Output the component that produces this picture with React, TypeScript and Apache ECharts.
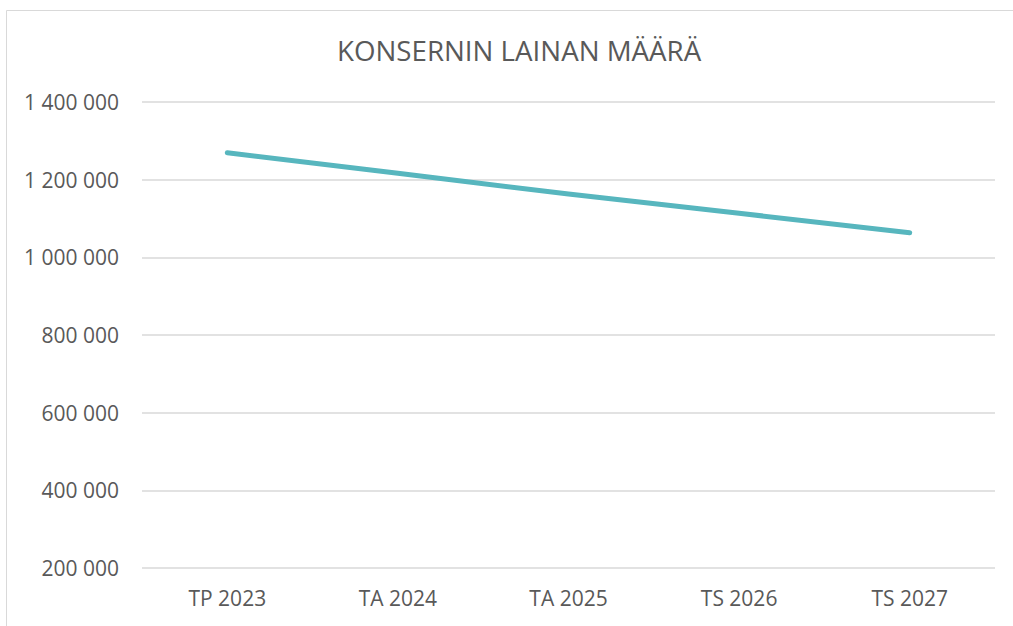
import React, { useEffect, useRef } from "react";
import * as echarts from "echarts";

const title = "KONSERNIN LAINAN MÄÄRÄ";
const categories = ["TP 2023", "TA 2024", "TA 2025", "TS 2026", "TS 2027"];
const loanValues = [1269500, 1216400, 1163100, 1113400, 1063500];
const yMin = 200000;
const yMax = 1400000;
const yStep = 200000;

const fmt = (v: number) =>
  String(Math.round(v)).replace(/\B(?=(\d{3})+(?!\d))/g, " ");

export default function App() {
  const ref = useRef<HTMLDivElement>(null);
  useEffect(() => {
    if (!ref.current) return;
    const chart = echarts.init(ref.current, undefined, { renderer: "svg" });
    const font = "'Open Sans', sans-serif";
    chart.setOption({
      animation: false,
      backgroundColor: "#ffffff",
      title: {
        text: title,
        left: 332,
        top: 31,
        textStyle: {
          fontFamily: font,
          fontSize: 27.7,
          fontWeight: "normal",
          color: "#595959",
        },
      },
      graphic: [
        {
          type: "rect",
          shape: { x: 6.5, y: 10.5, width: 1100, height: 700 },
          style: { fill: "none", stroke: "#d9d9d9", lineWidth: 1 },
          silent: true,
        },
      ],
      grid: { left: 142, right: 18, top: 102, bottom: 58 },
      xAxis: {
        type: "category",
        data: categories,
        boundaryGap: true,
        axisLine: { show: false },
        axisTick: { show: false },
        axisLabel: {
          fontFamily: font,
          fontSize: 21,
          color: "#595959",
          margin: 19,
        },
      },
      yAxis: {
        type: "value",
        min: yMin,
        max: yMax,
        interval: yStep,
        axisLine: { show: false },
        axisTick: { show: false },
        splitLine: { lineStyle: { color: "#d9d9d9", width: 1.5 } },
        axisLabel: {
          fontFamily: font,
          fontSize: 21,
          color: "#595959",
          margin: 23,
          formatter: (v: number) => fmt(v),
        },
      },
      series: [
        {
          type: "line",
          data: loanValues,
          showSymbol: false,
          symbol: "none",
          lineStyle: { color: "#57B6BE", width: 5, cap: "round", join: "round" },
        },
      ],
    });
    return () => chart.dispose();
  }, []);
  return (
    <div
      ref={ref}
      style={{ position: "fixed", left: 0, top: 0, width: 1013, height: 626 }}
    />
  );
}
